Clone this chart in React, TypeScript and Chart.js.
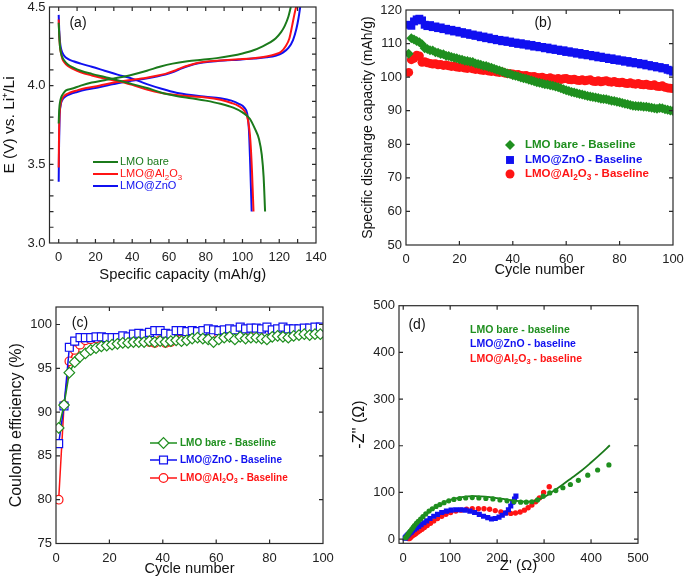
import React, { useEffect, useRef } from 'react';
import { Chart, registerables } from 'chart.js';

Chart.register(...registerables);

const PAGE_W = 685;
const PAGE_H = 581;
const FONT = '"Liberation Sans", Arial, Helvetica, sans-serif';

const GREEN_A = '#1b7a1b';
const GREEN = '#1f8f1f';
const BLUE = '#1010f0';
const RED = '#ff1414';

// ---------------- Panel (a): charge / discharge profiles ----------------
const aXTicks = [0, 10, 20, 30, 40, 50, 60, 70, 80, 90, 100, 110, 120, 130, 140];
const aXLabels = [0, 20, 40, 60, 80, 100, 120, 140];
const aYTicks = [3.0, 3.1, 3.2, 3.3, 3.4, 3.5, 3.6, 3.7, 3.8, 3.9, 4.0, 4.1, 4.2, 4.3, 4.4, 4.5];
const aYLabels = [3.0, 3.5, 4.0, 4.5];

const bareChargeCap = [0, 0.3, 0.8, 1.5, 2.5, 4, 7, 12, 18, 25, 32, 40, 48, 55, 62, 70, 78, 86, 94, 100, 106, 111, 115, 118, 121, 123, 125, 126.3];
const bareChargeV = [3.76, 3.85, 3.9, 3.93, 3.95, 3.97, 3.98, 4.0, 4.02, 4.035, 4.05, 4.07, 4.095, 4.12, 4.14, 4.155, 4.165, 4.175, 4.19, 4.205, 4.225, 4.25, 4.275, 4.3, 4.34, 4.38, 4.44, 4.5];
const al2o3ChargeCap = [0, 0.2, 0.5, 1, 2, 3.5, 6, 10, 15, 22, 30, 38, 45, 52, 58, 63, 67, 71, 76, 82, 90, 98, 106, 113, 118, 121, 123.5, 125.5, 127, 128.2, 129.2];
const al2o3ChargeV = [3.48, 3.7, 3.82, 3.88, 3.92, 3.94, 3.955, 3.97, 3.985, 4.0, 4.02, 4.035, 4.045, 4.06, 4.075, 4.095, 4.115, 4.13, 4.145, 4.155, 4.162, 4.168, 4.175, 4.185, 4.2, 4.215, 4.25, 4.3, 4.38, 4.45, 4.5];
const znoChargeCap = [0, 0.2, 0.5, 1, 2, 3.5, 6, 10, 15, 22, 30, 38, 45, 52, 58, 63, 67, 71, 76, 82, 90, 98, 106, 113, 118, 122, 125, 127.5, 129.3, 130.5, 131.4];
const znoChargeV = [3.39, 3.62, 3.8, 3.87, 3.91, 3.93, 3.945, 3.96, 3.975, 3.99, 4.01, 4.028, 4.04, 4.055, 4.07, 4.09, 4.11, 4.127, 4.142, 4.152, 4.16, 4.165, 4.172, 4.18, 4.19, 4.21, 4.24, 4.29, 4.36, 4.43, 4.5];

const bareDischCap = [0, 0.3, 0.7, 1.2, 2, 3, 5, 8, 12, 18, 25, 32, 40, 48, 56, 64, 72, 80, 88, 95, 100, 104, 107, 109, 110.5, 111.5, 112.3];
const bareDischV = [4.4, 4.32, 4.25, 4.21, 4.18, 4.16, 4.135, 4.115, 4.095, 4.075, 4.055, 4.035, 4.01, 3.985, 3.955, 3.935, 3.92, 3.905, 3.885, 3.86, 3.83, 3.79, 3.72, 3.66, 3.56, 3.42, 3.2];
const al2o3DischCap = [0, 0.3, 0.7, 1.2, 2, 3, 5, 8, 12, 18, 25, 32, 40, 48, 56, 64, 72, 80, 88, 94, 98, 101, 103, 104.3, 105.2, 106];
const al2o3DischV = [4.42, 4.32, 4.25, 4.21, 4.17, 4.15, 4.125, 4.105, 4.085, 4.065, 4.045, 4.03, 4.005, 3.975, 3.953, 3.94, 3.932, 3.925, 3.91, 3.89, 3.87, 3.84, 3.78, 3.65, 3.45, 3.2];
const znoDischCap = [0, 0.3, 0.7, 1.2, 2, 3, 5, 8, 12, 18, 25, 32, 40, 48, 56, 64, 72, 80, 88, 94, 98, 101, 102.6, 103.5, 104.2, 105];
const znoDischV = [4.45, 4.35, 4.28, 4.24, 4.21, 4.19, 4.17, 4.155, 4.14, 4.12, 4.095, 4.07, 4.045, 4.01, 3.98, 3.955, 3.94, 3.93, 3.92, 3.905, 3.885, 3.86, 3.82, 3.72, 3.5, 3.2];

// ---------------- Panel (b): discharge capacity vs cycle ----------------
const bXTicks = [0, 20, 40, 60, 80, 100];
const bYTicks = [50, 60, 70, 80, 90, 100, 110, 120];
const bCycles = Array.from({ length: 100 }, (_, i) => i + 1);
const capBare = [
  107.0, 111.6, 111.2, 110.8, 110.4, 109.8, 108.6, 108.4, 108.0, 107.9,
  107.4, 107.3, 106.9, 106.8, 106.4, 106.3, 106.0, 105.8, 105.6, 105.3,
  105.2, 104.9, 104.8, 104.6, 104.5, 104.1, 103.9, 103.7, 103.4, 103.3,
  103.0, 102.8, 102.5, 102.2, 102.0, 101.7, 101.4, 101.1, 100.9, 100.6,
  100.4, 100.2, 99.9, 99.7, 99.5, 99.2, 99.0, 98.8, 98.5, 98.3,
  98.1, 97.9, 97.8, 97.6, 97.4, 97.2, 97.0, 96.7, 96.4, 96.1,
  95.9, 95.6, 95.4, 95.2, 95.0, 94.8, 94.6, 94.4, 94.2, 94.1,
  93.9, 93.8, 93.6, 93.5, 93.4, 93.2, 93.0, 92.9, 92.7, 92.5,
  92.3, 92.1, 91.9, 91.7, 91.5, 91.4, 91.3, 91.3, 91.2, 91.2,
  91.0, 90.9, 90.7, 90.6, 90.8, 90.7, 90.4, 90.3, 90.1, 89.9,
];
const capZnO = [
  115.6, 115.3, 116.6, 117.2, 117.4, 116.9, 115.6, 115.2, 115.5, 114.9,
  115.1, 114.6, 114.8, 114.3, 114.4, 113.9, 114.1, 113.6, 113.8, 113.3,
  113.4, 112.9, 113.1, 112.6, 112.7, 112.3, 112.4, 111.9, 112.1, 111.6,
  111.8, 111.3, 111.4, 111.0, 111.1, 110.7, 110.9, 110.5, 110.6, 110.2,
  110.3, 109.9, 110.1, 109.7, 109.8, 109.4, 109.6, 109.1, 109.3, 108.9,
  109.0, 108.6, 108.8, 108.3, 108.5, 108.1, 108.2, 107.8, 108.0, 107.5,
  107.7, 107.3, 107.4, 107.0, 107.2, 106.7, 106.9, 106.5, 106.6, 106.2,
  106.4, 105.9, 106.1, 105.7, 105.8, 105.4, 105.6, 105.1, 105.3, 104.9,
  105.0, 104.6, 104.8, 104.3, 104.5, 104.1, 104.2, 103.8, 104.0, 103.5,
  103.6, 103.2, 103.3, 102.9, 103.0, 102.6, 102.7, 102.2, 102.0, 101.6,
];
const capAl2O3 = [
  101.4, 105.2, 105.6, 106.5, 106.3, 104.4, 104.6, 104.3, 104.1, 103.9,
  104.0, 103.7, 103.8, 103.5, 103.6, 103.4, 103.2, 103.3, 103.0, 102.9,
  103.0, 102.7, 102.6, 102.8, 102.5, 102.3, 102.4, 102.1, 102.0, 102.1,
  101.8, 101.7, 101.8, 101.5, 101.4, 101.5, 101.2, 101.1, 101.0, 100.9,
  100.7, 100.8, 100.5, 100.4, 100.5, 100.2, 100.1, 100.2, 99.9, 99.8,
  100.0, 99.7, 99.6, 99.8, 99.5, 99.4, 99.6, 99.3, 99.5, 99.6,
  99.3, 99.2, 99.4, 99.1, 99.0, 99.2, 98.9, 99.1, 99.2, 98.8,
  98.7, 98.9, 98.6, 98.8, 98.9, 98.6, 98.5, 98.7, 98.4, 98.3,
  98.5, 98.2, 98.1, 98.3, 98.0, 97.9, 98.1, 97.8, 97.7, 97.9,
  97.6, 97.5, 97.7, 97.3, 97.2, 97.4, 97.0, 96.8, 96.7, 96.6,
];

// ---------------- Panel (c): coulombic efficiency ----------------
const cXTicks = [0, 20, 40, 60, 80, 100];
const cYTicks = [75, 80, 85, 90, 95, 100];
const ceCycles = Array.from({ length: 50 }, (_, i) => 2 * i + 1);
const ceBare = [
  88.2, 90.8, 94.5, 95.7, 96.3, 96.7, 97.1, 97.3, 97.5, 97.6,
  97.7, 97.8, 97.9, 97.9, 98.0, 98.0, 98.0, 98.1, 98.0, 98.1,
  98.0, 98.1, 98.2, 98.1, 98.2, 98.4, 98.5, 98.4, 98.3, 98.0,
  98.3, 98.5, 98.6, 98.3, 98.6, 98.4, 98.5, 98.5, 98.4, 98.3,
  98.6, 98.7, 98.6, 98.5, 98.7, 98.8, 98.9, 98.8, 98.9, 98.9,
];
const ceZnO = [
  86.4, 90.7, 97.4, 98.1, 98.5, 98.5, 98.5, 98.6, 98.6, 98.5,
  98.5, 98.5, 98.7, 98.6, 98.9, 99.0, 98.9, 99.1, 99.3, 99.3,
  99.0, 98.9, 99.3, 99.3, 99.2, 99.3, 99.2, 99.3, 99.5, 99.4,
  99.3, 99.4, 99.5, 99.4, 99.7, 99.5, 99.6, 99.6, 99.5, 99.7,
  99.4, 99.5, 99.7, 99.5, 99.5, 99.5, 99.6, 99.6, 99.7, 99.7,
];
const ceAl2O3 = [
  80.0, 90.8, 95.8, 97.1, 97.7, 98.2, 98.3, 98.4, 98.5, 98.2,
  98.2, 98.3, 98.0, 98.2, 98.2, 98.1, 98.2, 98.0, 97.9, 98.2,
  97.9, 98.0, 98.3, 98.3, 98.5, 98.8, 98.6, 98.8, 99.1, 98.9,
  98.9, 99.2, 98.8, 99.2, 99.3, 98.8, 99.1, 99.3, 99.0, 99.0,
  99.2, 98.9, 99.1, 99.3, 98.9, 99.0, 99.0, 98.9, 99.0, 99.1,
];

// ---------------- Panel (d): Nyquist plot ----------------
const dTicks = [0, 100, 200, 300, 400, 500];
const eisBareRe = [5, 7, 9, 11, 13, 15, 18, 21, 24, 28, 32, 37, 42, 48, 55, 62, 70, 78, 87, 97, 108, 120, 133, 147, 161, 176, 191, 206, 221, 236, 250, 262, 274, 286, 298, 312, 325, 340, 356, 373, 393, 414, 438];
const eisBareIm = [3, 5, 8, 11, 14, 17, 21, 25, 29, 34, 38, 43, 48, 54, 60, 65, 70, 74, 78, 82, 85, 87, 88, 89, 88, 87, 86, 84, 82, 80, 79, 79, 80, 84, 92, 99, 104, 110, 117, 126, 137, 148, 159];
const fitBareRe = [3, 10, 20, 30, 45, 60, 80, 100, 125, 150, 175, 200, 225, 250, 265, 280, 300, 320, 340, 360, 380, 400, 420, 440];
const fitBareIm = [0, 11, 24, 35, 50, 62, 75, 84, 90, 92, 91, 88, 84, 81, 80, 82, 90, 103, 117, 132, 147, 164, 182, 201];
const eisZnORe = [4, 5, 6, 8, 10, 12, 14, 17, 20, 24, 28, 33, 38, 44, 50, 57, 65, 73, 82, 92, 102, 112, 122, 132, 142, 152, 162, 171, 180, 188, 196, 204, 211, 218, 224, 229, 233, 237, 240];
const eisZnOIm = [2, 3, 5, 7, 9, 11, 13, 15, 18, 21, 24, 27, 31, 35, 39, 44, 49, 53, 57, 60, 62, 63, 63, 62, 60, 57, 53, 49, 46, 43, 44, 47, 51, 56, 63, 71, 79, 86, 92];
const eisAl2O3Re = [12, 14, 16, 18, 21, 24, 27, 31, 35, 40, 45, 51, 58, 65, 73, 82, 91, 101, 112, 123, 135, 147, 160, 172, 184, 196, 208, 219, 229, 239, 249, 258, 266, 274, 282, 290, 299, 311];
const eisAl2O3Im = [1, 2, 4, 6, 8, 10, 12, 15, 18, 21, 25, 29, 34, 39, 44, 49, 53, 57, 60, 62, 64, 65, 65, 65, 64, 61, 58, 56, 55, 56, 58, 62, 67, 73, 80, 88, 100, 112];

// ---------------- helpers ----------------
type Frame = { left: number; top: number; right: number; bottom: number };
type AxisSpec = { min: number; max: number; ticks: number[]; labels: number[]; fmt: (v: number) => string; title: string; titleSize: number };

const pts = (xs: number[], ys: number[]) => xs.map((x, i) => ({ x, y: ys[i] }));
const half = (size: number) => (size * 1.2) / 2;

function makeScales(frame: Frame, yTitleX: number, xTitleY: number, x: AxisSpec, y: AxisSpec) {
  const tickFont = { family: FONT, size: 13 };
  const grid = { display: false, drawTicks: false, tickLength: 0 };
  return {
    x: {
      type: 'linear',
      position: 'bottom',
      min: x.min,
      max: x.max,
      grid,
      border: { display: false },
      afterBuildTicks: (s: any) => {
        s.ticks = x.ticks.map((v) => ({ value: v }));
      },
      afterFit: (s: any) => {
        s.height = xTitleY + half(x.titleSize) - frame.bottom;
        s.paddingLeft = 0;
        s.paddingRight = 0;
      },
      ticks: {
        autoSkip: false,
        maxRotation: 0,
        minRotation: 0,
        padding: 7,
        color: '#222',
        font: tickFont,
        callback: (v: number) => (x.labels.includes(v) ? x.fmt(v) : ''),
      },
      title: { display: true, text: x.title, color: '#111', font: { family: FONT, size: x.titleSize }, padding: 0 },
    },
    y: {
      type: 'linear',
      position: 'left',
      min: y.min,
      max: y.max,
      grid,
      border: { display: false },
      afterBuildTicks: (s: any) => {
        s.ticks = y.ticks.map((v) => ({ value: v }));
      },
      afterFit: (s: any) => {
        s.width = frame.left - (yTitleX - half(y.titleSize));
        s.paddingTop = 0;
        s.paddingBottom = 0;
      },
      ticks: {
        autoSkip: false,
        padding: 4,
        color: '#222',
        font: tickFont,
        callback: (v: number) => (y.labels.includes(v) ? y.fmt(v) : ''),
      },
      title: { display: true, text: y.title, color: '#111', font: { family: FONT, size: y.titleSize }, padding: 0 },
    },
  };
}

function layoutPadding(frame: Frame, yTitleX: number, xTitleY: number, ySize: number, xSize: number) {
  return {
    left: yTitleX - half(ySize),
    right: PAGE_W - frame.right,
    top: frame.top,
    bottom: PAGE_H - (xTitleY + half(xSize)),
  };
}

function drawMarker(ctx: CanvasRenderingContext2D, style: string, x: number, y: number, r: number, fill: string, stroke: string, lw: number) {
  ctx.beginPath();
  if (style === 'rect') {
    const s = r * Math.SQRT1_2;
    ctx.rect(x - s, y - s, 2 * s, 2 * s);
  } else if (style === 'rectRot') {
    ctx.moveTo(x - r, y);
    ctx.lineTo(x, y - r);
    ctx.lineTo(x + r, y);
    ctx.lineTo(x, y + r);
    ctx.closePath();
  } else {
    ctx.arc(x, y, r, 0, Math.PI * 2);
  }
  ctx.fillStyle = fill;
  ctx.fill();
  if (lw > 0) {
    ctx.lineWidth = lw;
    ctx.strokeStyle = stroke;
    ctx.stroke();
  }
}

function drawRich(ctx: CanvasRenderingContext2D, text: string, x: number, y: number, size: number, weight: string, color: string) {
  const runs: { t: string; sub: boolean }[] = [];
  let buf = '';
  for (let i = 0; i < text.length; i++) {
    if (text[i] === '_' && i + 1 < text.length) {
      if (buf) runs.push({ t: buf, sub: false });
      buf = '';
      runs.push({ t: text[i + 1], sub: true });
      i++;
    } else {
      buf += text[i];
    }
  }
  if (buf) runs.push({ t: buf, sub: false });
  ctx.save();
  ctx.fillStyle = color;
  ctx.textAlign = 'left';
  ctx.textBaseline = 'middle';
  let cx = x;
  for (const r of runs) {
    ctx.font = `${weight} ${r.sub ? size * 0.72 : size}px ${FONT}`;
    ctx.fillText(r.t, cx, r.sub ? y + size * 0.32 : y);
    cx += ctx.measureText(r.t).width;
  }
  ctx.restore();
}

const framePlugin = {
  id: 'frameTicks',
  afterDraw(chart: any, _a: any, opts: any) {
    const { ctx, chartArea: a } = chart;
    const xs = chart.scales.x;
    const ys = chart.scales.y;
    const len = opts && opts.len ? opts.len : 4;
    ctx.save();
    ctx.strokeStyle = '#2a2a2a';
    ctx.lineWidth = 1.2;
    ctx.beginPath();
    for (const t of xs.ticks) {
      const p = xs.getPixelForValue(t.value);
      if (p <= a.left + 1 || p >= a.right - 1) continue;
      ctx.moveTo(p, a.bottom);
      ctx.lineTo(p, a.bottom - len);
      ctx.moveTo(p, a.top);
      ctx.lineTo(p, a.top + len);
    }
    for (const t of ys.ticks) {
      const p = ys.getPixelForValue(t.value);
      if (p <= a.top + 1 || p >= a.bottom - 1) continue;
      ctx.moveTo(a.left, p);
      ctx.lineTo(a.left + len, p);
      ctx.moveTo(a.right, p);
      ctx.lineTo(a.right - len, p);
    }
    ctx.stroke();
    ctx.strokeRect(a.left, a.top, a.right - a.left, a.bottom - a.top);
    ctx.restore();
  },
};

const legendPlugin = {
  id: 'richLegend',
  afterDraw(chart: any, _a: any, opts: any) {
    if (!opts || !opts.rows) return;
    const ctx = chart.ctx as CanvasRenderingContext2D;
    const items = chart.data.datasets.filter((d: any) => d.label);
    items.forEach((d: any, i: number) => {
      const y = opts.rows[i];
      const col = d.borderColor;
      if (opts.lineFrom != null) {
        ctx.save();
        ctx.strokeStyle = col;
        ctx.lineWidth = opts.lineWidth || 2;
        ctx.beginPath();
        ctx.moveTo(opts.lineFrom, y);
        ctx.lineTo(opts.lineTo, y);
        ctx.stroke();
        ctx.restore();
      }
      if (opts.markerX != null) {
        const fill = d.pointBackgroundColor || d.backgroundColor;
        const stroke = d.pointBorderColor || d.borderColor;
        drawMarker(ctx, d.pointStyle, opts.markerX, y, d.pointRadius, fill, stroke, d.pointBorderWidth || 0);
      }
      drawRich(ctx, d.label, opts.textX, y, opts.size, opts.weight, d.legendColor || col);
    });
  },
};

const labelPlugin = {
  id: 'panelLabel',
  afterDraw(chart: any, _a: any, opts: any) {
    if (!opts || !opts.text) return;
    const ctx = chart.ctx as CanvasRenderingContext2D;
    ctx.save();
    ctx.fillStyle = '#111';
    ctx.font = `14px ${FONT}`;
    ctx.textAlign = 'center';
    ctx.textBaseline = 'middle';
    ctx.fillText(opts.text, opts.x, opts.y);
    ctx.restore();
  },
};

function baseConfig(datasets: any[], scales: any, padding: any, plugins: any) {
  return {
    type: 'scatter',
    data: { datasets },
    options: {
      animation: false,
      responsive: false,
      events: [],
      layout: { padding },
      scales,
      plugins: {
        legend: { display: false },
        tooltip: { enabled: false },
        ...plugins,
      },
    },
    plugins: [framePlugin, legendPlugin, labelPlugin],
  };
}

const lineDs = (label: string, xs: number[], ys: number[], color: string) => ({
  label,
  data: pts(xs, ys),
  showLine: true,
  borderColor: color,
  backgroundColor: color,
  borderWidth: 2,
  pointRadius: 0,
  cubicInterpolationMode: 'monotone',
});

function makeA() {
  const frame = { left: 49.5, top: 7, right: 316, bottom: 243 };
  const yTitleX = 10;
  const xTitleY = 275;
  const xs = 14.8;
  const ys = 15.5;
  const scales = makeScales(
    frame,
    yTitleX,
    xTitleY,
    { min: -5, max: 140, ticks: aXTicks, labels: aXLabels, fmt: (v) => String(v), title: 'Specific capacity (mAh/g)', titleSize: xs },
    { min: 3.0, max: 4.5, ticks: aYTicks, labels: aYLabels, fmt: (v) => v.toFixed(1), title: 'E (V) vs. Li\u207A/Li', titleSize: ys }
  );
  const datasets = [
    lineDs('LMO bare', bareChargeCap, bareChargeV, GREEN_A),
    lineDs('', bareDischCap, bareDischV, GREEN_A),
    lineDs('LMO@Al_2O_3', al2o3ChargeCap, al2o3ChargeV, RED),
    lineDs('', al2o3DischCap, al2o3DischV, RED),
    lineDs('LMO@ZnO', znoChargeCap, znoChargeV, BLUE),
    lineDs('', znoDischCap, znoDischV, BLUE),
  ];
  return baseConfig(datasets, scales, layoutPadding(frame, yTitleX, xTitleY, ys, xs), {
    richLegend: { rows: [162, 174, 186], lineFrom: 93, lineTo: 118, lineWidth: 2, textX: 120, size: 11, weight: 'normal' },
    panelLabel: { text: '(a)', x: 78, y: 23 },
  });
}

function makeB() {
  const frame = { left: 406, top: 10, right: 673, bottom: 245 };
  const yTitleX = 368;
  const xTitleY = 270;
  const xs = 14.6;
  const ys = 14;
  const scales = makeScales(
    frame,
    yTitleX,
    xTitleY,
    { min: 0, max: 100, ticks: bXTicks, labels: bXTicks, fmt: (v) => String(v), title: 'Cycle number', titleSize: xs },
    { min: 50, max: 120, ticks: bYTicks, labels: bYTicks, fmt: (v) => String(v), title: 'Specific discharge capacity (mAh/g)', titleSize: ys }
  );
  const mk = (label: string, vals: number[], color: string, style: string, r: number) => ({
    label,
    data: pts(bCycles, vals),
    showLine: false,
    pointStyle: style,
    pointRadius: r,
    pointBorderWidth: 0,
    borderColor: color,
    backgroundColor: color,
    pointBackgroundColor: color,
  });
  const datasets = [
    mk('LMO bare - Baseline', capBare, GREEN, 'rectRot', 5),
    mk('LMO@ZnO - Baseline', capZnO, BLUE, 'rect', 5.6),
    mk('LMO@Al_2O_3 - Baseline', capAl2O3, RED, 'circle', 4.5),
  ];
  return baseConfig(datasets, scales, layoutPadding(frame, yTitleX, xTitleY, ys, xs), {
    richLegend: { rows: [145, 160, 174], markerX: 510, textX: 525, size: 11.5, weight: 'bold' },
    panelLabel: { text: '(b)', x: 543, y: 23 },
  });
}

function makeC() {
  const frame = { left: 56, top: 307, right: 323, bottom: 543.5 };
  const yTitleX = 16.7;
  const xTitleY = 569;
  const xs = 14.6;
  const ys = 16;
  const scales = makeScales(
    frame,
    yTitleX,
    xTitleY,
    { min: 0, max: 100, ticks: cXTicks, labels: cXTicks, fmt: (v) => String(v), title: 'Cycle number', titleSize: xs },
    { min: 75, max: 102, ticks: cYTicks, labels: cYTicks, fmt: (v) => String(v), title: 'Coulomb efficiency (%)', titleSize: ys }
  );
  const mk = (label: string, vals: number[], color: string, style: string, r: number) => ({
    label,
    data: pts(ceCycles, vals),
    showLine: true,
    borderColor: color,
    backgroundColor: '#ffffff',
    borderWidth: 1.5,
    pointStyle: style,
    pointRadius: r,
    pointBorderWidth: 1.2,
    pointBorderColor: color,
    pointBackgroundColor: '#ffffff',
  });
  const datasets = [
    mk('LMO bare - Baseline', ceBare, GREEN, 'rectRot', 5.3),
    mk('LMO@ZnO - Baseline', ceZnO, BLUE, 'rect', 5.6),
    mk('LMO@Al_2O_3 - Baseline', ceAl2O3, RED, 'circle', 4.3),
  ];
  return baseConfig(datasets, scales, layoutPadding(frame, yTitleX, xTitleY, ys, xs), {
    richLegend: { rows: [443, 460, 478], lineFrom: 150, lineTo: 177, lineWidth: 1.5, markerX: 163.5, textX: 180, size: 10, weight: 'bold' },
    panelLabel: { text: '(c)', x: 80, y: 323 },
  });
}

function makeD() {
  const frame = { left: 399, top: 305.7, right: 638, bottom: 543.3 };
  const yTitleX = 360;
  const xTitleY = 566;
  const xs = 15;
  const ys = 16;
  const scales = makeScales(
    frame,
    yTitleX,
    xTitleY,
    { min: -9, max: 500, ticks: dTicks, labels: dTicks, fmt: (v) => String(v), title: "Z' (\u03A9)", titleSize: xs },
    { min: -9, max: 500, ticks: dTicks, labels: dTicks, fmt: (v) => String(v), title: "-Z'' (\u03A9)", titleSize: ys }
  );
  const mk = (label: string, re: number[], im: number[], color: string, style: string, r: number) => ({
    label,
    data: pts(re, im),
    showLine: false,
    pointStyle: style,
    pointRadius: r,
    pointBorderWidth: 0,
    borderColor: color,
    backgroundColor: color,
    pointBackgroundColor: color,
  });
  const datasets = [
    mk('LMO bare - baseline', eisBareRe, eisBareIm, GREEN, 'circle', 2.6),
    {
      label: '',
      data: pts(fitBareRe, fitBareIm),
      showLine: true,
      borderColor: GREEN_A,
      backgroundColor: GREEN_A,
      borderWidth: 1.8,
      pointRadius: 0,
      tension: 0.4,
    },
    mk('LMO@ZnO - baseline', eisZnORe, eisZnOIm, BLUE, 'rect', 3.6),
    mk('LMO@Al_2O_3 - baseline', eisAl2O3Re, eisAl2O3Im, RED, 'circle', 2.7),
  ];
  return baseConfig(datasets, scales, layoutPadding(frame, yTitleX, xTitleY, ys, xs), {
    richLegend: { rows: [330, 344, 359], textX: 470, size: 10.5, weight: 'bold' },
    panelLabel: { text: '(d)', x: 417, y: 325 },
  });
}

function Panel({ make }: { make: () => any }) {
  const ref = useRef<HTMLCanvasElement>(null);
  useEffect(() => {
    if (!ref.current) return;
    const chart = new Chart(ref.current, make());
    return () => chart.destroy();
  }, [make]);
  return (
    <canvas
      ref={ref}
      width={PAGE_W}
      height={PAGE_H}
      style={{ position: 'absolute', left: 0, top: 0, width: PAGE_W, height: PAGE_H }}
    />
  );
}

export default function App() {
  return (
    <div style={{ position: 'absolute', left: 0, top: 0, width: PAGE_W, height: PAGE_H, background: '#ffffff', overflow: 'hidden' }}>
      <Panel make={makeA} />
      <Panel make={makeB} />
      <Panel make={makeC} />
      <Panel make={makeD} />
    </div>
  );
}
